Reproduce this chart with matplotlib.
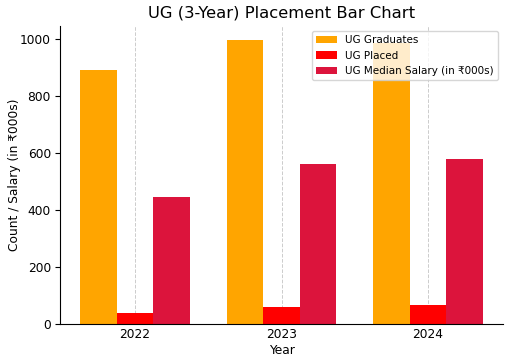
import matplotlib
matplotlib.use("Agg")
import matplotlib.pyplot as plt
import numpy as np

years = ["2022", "2023", "2024"]
graduates = [890, 995, 985]
placed = [39, 61, 66]
median_salary = [445, 560, 580]

fs = 8.8
fig, ax = plt.subplots(figsize=(5.12, 3.64), dpi=100)
x = np.arange(len(years))
w = 0.25
ax.bar(x - w, graduates, w, color="orange", label="UG Graduates")
ax.bar(x, placed, w, color="red", label="UG Placed")
ax.bar(x + w, median_salary, w, color="crimson", label="UG Median Salary (in ₹000s)")

ax.set_xticks(x)
ax.set_xticklabels(years, fontsize=fs)
ax.tick_params(axis="y", labelsize=fs, pad=3)
ax.tick_params(axis="x", length=0, pad=3)
ax.set_xlabel("Year", fontsize=8.8, labelpad=2)
ax.set_ylabel("Count / Salary (in ₹000s)", fontsize=8.8)
ax.yaxis.set_label_coords(-0.088, 0.5)
ax.set_title("UG (3-Year) Placement Bar Chart", fontsize=11.8)
ax.grid(axis="x", linestyle="--", color="#cccccc", linewidth=0.7)
ax.set_axisbelow(True)
for s in ["top", "right"]:
    ax.spines[s].set_visible(False)
ax.legend(loc="upper right", fontsize=7.5)
fig.subplots_adjust(left=60/512, right=503/512, top=1-26/364, bottom=1-324/364)
fig.savefig("out.png", dpi=100)
